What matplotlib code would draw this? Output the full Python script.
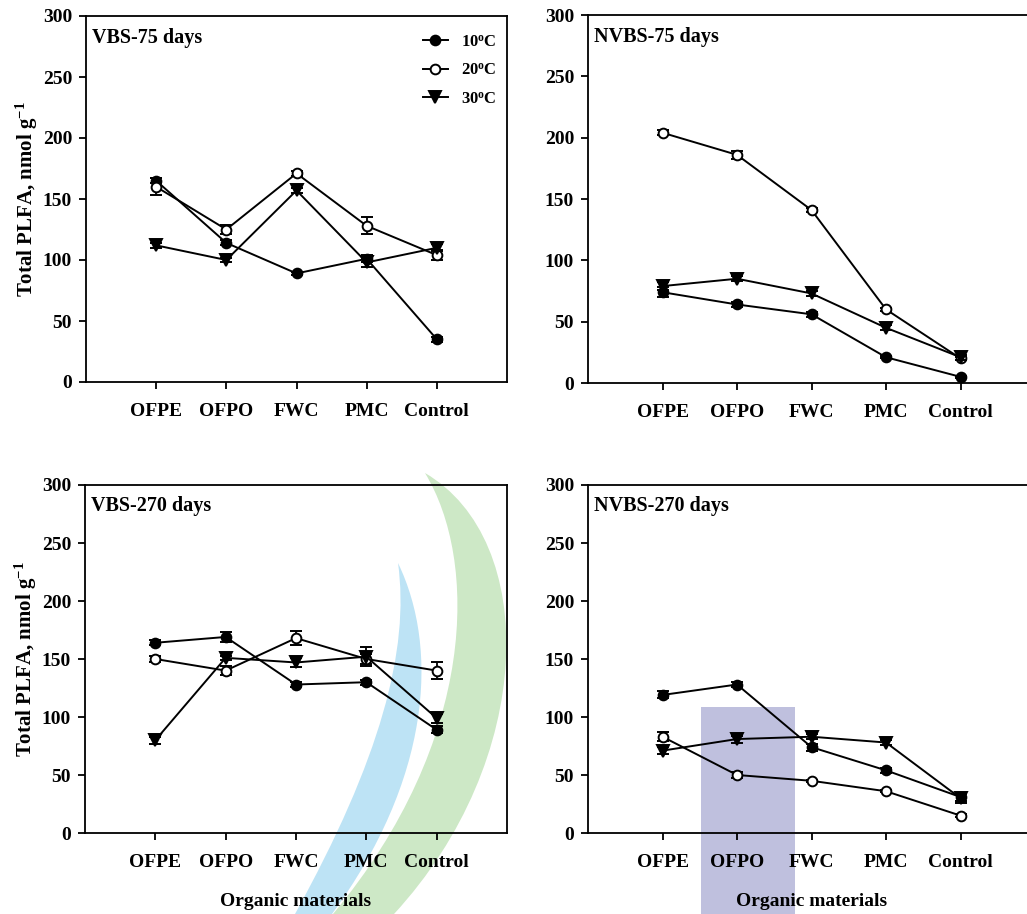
import matplotlib
matplotlib.use("Agg")
import matplotlib.pyplot as plt
from matplotlib.lines import Line2D
from matplotlib.path import Path
from matplotlib.patches import PathPatch, Rectangle

plt.rcParams['font.family'] = ['Liberation Serif', 'DejaVu Serif']
plt.rcParams['font.weight'] = 'bold'
plt.rcParams['axes.labelweight'] = 'bold'
plt.rcParams['mathtext.fontset'] = 'custom'
plt.rcParams['mathtext.rm'] = 'Liberation Serif:bold'
plt.rcParams['mathtext.bf'] = 'Liberation Serif:bold'
plt.rcParams['mathtext.it'] = 'Liberation Serif:bold'
plt.rcParams['mathtext.default'] = 'bf'

materials = ['OFPE', 'OFPO', 'FWC', 'PMC', 'Control']
temps = ['10', '20', '30']

# Total PLFA (nmol g-1) and standard errors, per panel and temperature
vbs75_10 = [165, 114, 89, 101, 35]
vbs75_20 = [160, 125, 171, 128, 104]
vbs75_30 = [112, 100, 157, 98, 110]
vbs75_10_se = [2, 2, 1, 3, 2]
vbs75_20_se = [7, 4, 2, 7, 4]
vbs75_30_se = [2, 2, 2, 4, 3]

nvbs75_10 = [74, 64, 56, 21, 5]
nvbs75_20 = [204, 186, 141, 60, 20]
nvbs75_30 = [79, 85, 73, 45, 21]
nvbs75_10_se = [4, 2, 2, 1, 1]
nvbs75_20_se = [2, 3, 2, 1, 1]
nvbs75_30_se = [3, 2, 2, 2, 2]

vbs270_10 = [164, 169, 128, 130, 89]
vbs270_20 = [150, 140, 168, 150, 140]
vbs270_30 = [80, 151, 147, 152, 99]
vbs270_10_se = [2, 4, 2, 2, 3]
vbs270_20_se = [3, 4, 6, 4, 7]
vbs270_30_se = [3, 2, 4, 8, 4]

nvbs270_10 = [119, 128, 74, 54, 31]
nvbs270_20 = [83, 50, 45, 36, 15]
nvbs270_30 = [71, 81, 83, 78, 30]
nvbs270_10_se = [3, 2, 3, 2, 3]
nvbs270_20_se = [4, 3, 1, 1, 1]
nvbs270_30_se = [3, 3, 2, 2, 4]

panels = [
    ('VBS-75 days', (vbs75_10, vbs75_20, vbs75_30),
     (vbs75_10_se, vbs75_20_se, vbs75_30_se)),
    ('NVBS-75 days', (nvbs75_10, nvbs75_20, nvbs75_30),
     (nvbs75_10_se, nvbs75_20_se, nvbs75_30_se)),
    ('VBS-270 days', (vbs270_10, vbs270_20, vbs270_30),
     (vbs270_10_se, vbs270_20_se, vbs270_30_se)),
    ('NVBS-270 days', (nvbs270_10, nvbs270_20, nvbs270_30),
     (nvbs270_10_se, nvbs270_20_se, nvbs270_30_se)),
]

W, H = 1027, 914
fig = plt.figure(figsize=(W / 100, H / 100), dpi=100)


def px(pts):
    """Pixel coordinates (origin top-left) to figure fraction."""
    return [(x / W, 1 - y / H) for x, y in pts]


def band(left, right, color):
    """Band between two cubic curves that share a starting tip."""
    verts = px(left) + px([right[3], right[2], right[1], right[0]])
    verts.append(verts[0])
    codes = ([Path.MOVETO] + [Path.CURVE4] * 3 + [Path.LINETO]
             + [Path.CURVE4] * 3 + [Path.CLOSEPOLY])
    fig.patches.append(PathPatch(Path(verts, codes),
                                 transform=fig.transFigure, facecolor=color,
                                 edgecolor='none', zorder=-5))


# background emblem: two swooshes and a lavender block
band([(425, 473), (478, 560), (478, 740), (333, 914)],
     [(425, 473), (540, 540), (536, 760), (394, 914)], '#cde8c6')
band([(398, 563), (410, 650), (380, 760), (295, 914)],
     [(398, 563), (440, 650), (430, 780), (332, 914)], '#bde3f5')
fig.patches.append(Rectangle((701 / W, 0), 94 / W, (914 - 707) / H,
                             transform=fig.transFigure, facecolor='#bfc0de',
                             edgecolor='none', zorder=-5))

# axes boxes in pixels: left, top, right, bottom
boxes = [(86, 16, 507, 382), (588, 15, 1035, 383),
         (85, 485, 507, 833), (588, 485, 1035, 833)]

styles = [dict(marker='o', mfc='black', ms=7),
          dict(marker='o', mfc='white', ms=7),
          dict(marker='v', mfc='black', ms=8)]

x = list(range(1, len(materials) + 1))

for i, ((title, series, errs), (l, t, r, b)) in enumerate(zip(panels, boxes)):
    ax = fig.add_axes([l / W, 1 - b / H, (r - l) / W, (b - t) / H])
    ax.patch.set_facecolor('none')
    for k, (vals, se, st) in enumerate(zip(series, errs, styles)):
        ax.errorbar(x, vals, yerr=se, color='black', lw=1.4,
                    elinewidth=1.3, capsize=4.5, capthick=1.3,
                    mec='black', mew=1.4, zorder=3 + k, **st)
    ax.set_xlim(0, 6)
    ax.set_ylim(0, 300)
    ax.set_yticks(range(0, 301, 50))
    ax.set_xticks(x)
    ax.set_xticklabels(materials)
    ax.tick_params(axis='both', direction='out', length=5, width=1.3,
                   labelsize=14)
    ax.tick_params(axis='y', pad=5)
    ax.tick_params(axis='x', pad=10)
    for s in ax.spines.values():
        s.set_linewidth(1.3)
    ax.text(0.014, 0.926, title, transform=ax.transAxes, fontsize=14.5,
            fontweight='bold', va='baseline', ha='left')
    if i % 2 == 0:
        ax.set_ylabel(r'Total PLFA, nmol g$^{-1}$', fontsize=15, labelpad=2)
    if i >= 2:
        ax.set_xlabel('Organic materials', fontsize=14, labelpad=16)
    if i == 0:
        handles = [Line2D([], [], color='black', lw=1.4, mec='black',
                          mew=1.4, **st) for st in styles]
        labels = [t + r'$^{o}$C' for t in temps]
        ax.legend(handles, labels, loc='upper right',
                  bbox_to_anchor=(0.975, 0.95), frameon=False, fontsize=12,
                  handlelength=1.45, handletextpad=0.8, labelspacing=0.75,
                  borderpad=0, borderaxespad=0)

fig.savefig('out.png', dpi=100)
